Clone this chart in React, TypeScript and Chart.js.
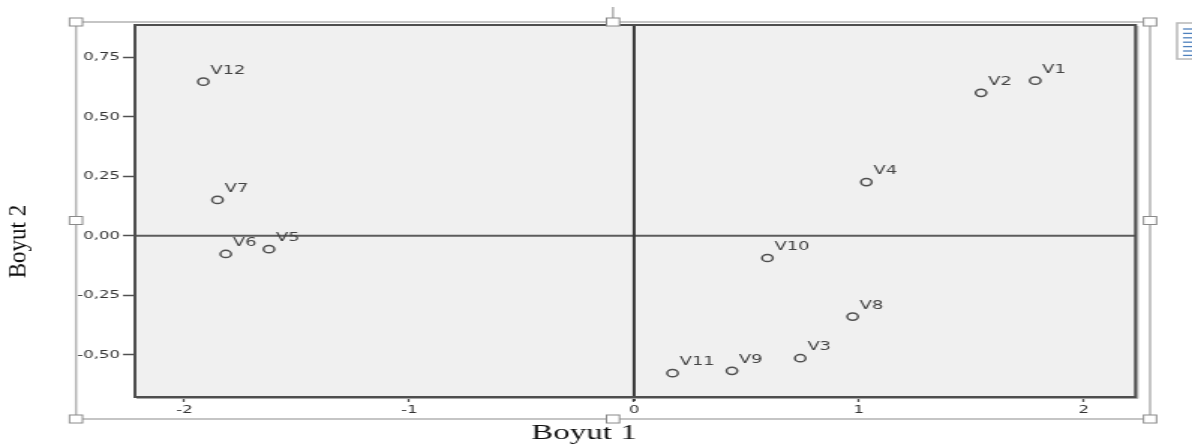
import React, { useEffect, useRef } from "react";
import { Chart, registerables } from "chart.js";

Chart.register(...registerables);

// ---- data ----
const pointLabels = ["V1", "V2", "V3", "V4", "V5", "V6", "V7", "V8", "V9", "V10", "V11", "V12"];
const boyut1 = [1.784, 1.543, 0.739, 1.033, -1.624, -1.816, -1.853, 0.972, 0.435, 0.593, 0.171, -1.916];
const boyut2 = [0.652, 0.601, -0.514, 0.226, -0.056, -0.076, 0.151, -0.339, -0.567, -0.093, -0.577, 0.648];
const xTicks = [-2, -1, 0, 1, 2];
const yTicks = [-0.5, -0.25, 0, 0.25, 0.5, 0.75];
const xTitle = "Boyut 1";
const yTitle = "Boyut 2";

// canvas drawn narrower and stretched horizontally like the reference
const CW = 795;
const CH = 445;
const S = 1192 / CW;
const sx = (v: number) => v / S;

const fmtY = (v: number) => v.toFixed(2).replace(".", ",");

const decorPlugin = {
  id: "decor",
  beforeDraw(chart: any) {
    const { ctx, chartArea: a } = chart;
    ctx.save();
    ctx.fillStyle = "#ffffff";
    ctx.fillRect(0, 0, chart.width, chart.height);
    ctx.fillStyle = "#f0f0f0";
    ctx.fillRect(a.left, a.top, a.right - a.left, a.bottom - a.top);
    ctx.restore();
  },
  beforeDatasetsDraw(chart: any) {
    const { ctx, chartArea: a, scales } = chart;
    const x0 = scales.x.getPixelForValue(0);
    const y0 = scales.y.getPixelForValue(0);
    ctx.save();
    ctx.strokeStyle = "#5c5c5c";
    ctx.lineWidth = 2;
    ctx.beginPath();
    ctx.moveTo(a.left, y0);
    ctx.lineTo(a.right, y0);
    ctx.stroke();
    ctx.strokeStyle = "#383838";
    ctx.lineWidth = 2;
    ctx.beginPath();
    ctx.moveTo(x0, a.top);
    ctx.lineTo(x0, a.bottom + 4);
    ctx.stroke();
    // shadow on right / bottom
    ctx.strokeStyle = "#a8a8a8";
    ctx.lineWidth = 1;
    ctx.beginPath();
    ctx.moveTo(a.right + 1.5, a.top + 1);
    ctx.lineTo(a.right + 1.5, a.bottom + 1.5);
    ctx.lineTo(a.left + 1, a.bottom + 1.5);
    ctx.stroke();
    // plot border
    ctx.strokeStyle = "#4e4e4e";
    ctx.lineWidth = 2;
    ctx.strokeRect(a.left, a.top, a.right - a.left, a.bottom - a.top);
    ctx.restore();
  },
  afterDatasetsDraw(chart: any) {
    const { ctx } = chart;
    const meta = chart.getDatasetMeta(0);
    ctx.save();
    ctx.font = "12px 'DejaVu Sans'";
    ctx.fillStyle = "#444444";
    ctx.textAlign = "left";
    ctx.textBaseline = "middle";
    meta.data.forEach((pt: any, i: number) => {
      ctx.fillText(pointLabels[i], pt.x + sx(7), pt.y - 11);
    });
    ctx.restore();
  },
  afterDraw(chart: any) {
    const { ctx } = chart;
    ctx.save();
    // selection frame
    const L = sx(76), R = sx(1150), T = 22, B = 419;
    ctx.strokeStyle = "#b2b2b2";
    ctx.lineWidth = 1.5;
    ctx.strokeRect(L, T, R - L, B - T);
    // stub above top middle handle
    ctx.beginPath();
    ctx.moveTo(sx(613), 7);
    ctx.lineTo(sx(613), T);
    ctx.stroke();
    const handles = [
      [76, 22], [613, 22], [1150, 22],
      [76, 220.5], [1150, 220.5],
      [76, 419], [613, 419], [1150, 419],
    ];
    ctx.fillStyle = "#ffffff";
    ctx.strokeStyle = "#8a8a8a";
    ctx.lineWidth = 1;
    handles.forEach(([hx, hy]) => {
      const w = sx(13), h = 8;
      ctx.fillRect(sx(hx) - w / 2, hy - h / 2, w, h);
      ctx.strokeRect(sx(hx) - w / 2, hy - h / 2, w, h);
    });
    // layout options icon at top right
    ctx.fillStyle = "#ffffff";
    ctx.strokeStyle = "#b8b8b8";
    ctx.lineWidth = 1.5;
    ctx.fillRect(sx(1177), 23, sx(30), 36);
    ctx.strokeRect(sx(1177), 23, sx(30), 36);
    ctx.strokeStyle = "#4f81bd";
    ctx.lineWidth = 1.3;
    for (let k = 0; k < 7; k++) {
      const yy = 29 + k * 4.4;
      ctx.beginPath();
      ctx.moveTo(sx(1183), yy);
      ctx.lineTo(sx(1192), yy);
      ctx.stroke();
    }
    // axis titles
    ctx.fillStyle = "#111111";
    ctx.font = "22px 'Liberation Serif', 'Times New Roman', serif";
    ctx.textAlign = "center";
    ctx.textBaseline = "alphabetic";
    ctx.fillText(xTitle, sx(584), 439);
    ctx.save();
    ctx.translate(sx(26), 241.5);
    ctx.scale(1.05 / S, 1);
    ctx.rotate(-Math.PI / 2);
    ctx.font = "23px 'Liberation Serif', 'Times New Roman', serif";
    ctx.fillText(yTitle, 0, 0);
    ctx.restore();
    ctx.restore();
  },
};

export default function App() {
  const ref = useRef<HTMLCanvasElement>(null);
  useEffect(() => {
    if (!ref.current) return;
    const chart = new Chart(ref.current, {
      type: "scatter",
      data: {
        datasets: [
          {
            label: "Boyut",
            data: boyut1.map((x, i) => ({ x, y: boyut2[i] })),
            pointStyle: "circle",
            pointRadius: 3.6,
            pointBorderWidth: 1.5,
            borderColor: "#505050",
            backgroundColor: "rgba(0,0,0,0)",
            pointHoverRadius: 3.6,
          },
        ],
      },
      options: {
        responsive: false,
        maintainAspectRatio: false,
        devicePixelRatio: 1,
        animation: false,
        events: [],
        layout: { padding: { left: 0, top: 25, right: CW - sx(1135.5), bottom: 0 } },
        plugins: {
          legend: { display: false },
          tooltip: { enabled: false },
          title: { display: false },
        },
        scales: {
          x: {
            type: "linear",
            min: -2.22,
            max: 2.23,
            afterBuildTicks: (s: any) => {
              s.ticks = xTicks.map((v) => ({ value: v }));
            },
            afterFit: (s: any) => {
              s.height = 48;
            },
            ticks: {
              autoSkip: false,
              maxRotation: 0,
              padding: 2,
              color: "#333333",
              font: { family: "'DejaVu Sans'", size: 11 },
              callback: (v: any) => String(v),
            },
            grid: {
              display: true,
              drawOnChartArea: false,
              drawTicks: true,
              tickLength: 5,
              tickColor: "#505050",
              tickWidth: 1.3,
            },
            border: { display: false },
          },
          y: {
            type: "linear",
            min: -0.677,
            max: 0.886,
            afterBuildTicks: (s: any) => {
              s.ticks = yTicks.map((v) => ({ value: v }));
            },
            afterFit: (s: any) => {
              s.width = 90;
            },
            ticks: {
              autoSkip: false,
              padding: 2,
              color: "#333333",
              font: { family: "'DejaVu Sans'", size: 11 },
              callback: (v: any) => fmtY(Number(v)),
            },
            grid: {
              display: true,
              drawOnChartArea: false,
              drawTicks: true,
              tickLength: 8,
              tickColor: "#505050",
              tickWidth: 1.5,
            },
            border: { display: false },
          },
        },
      },
      plugins: [decorPlugin],
    });
    return () => chart.destroy();
  }, []);

  return (
    <div style={{ position: "absolute", left: 0, top: 0, width: 1192, height: 445, background: "#fff" }}>
      <canvas
        ref={ref}
        width={CW}
        height={CH}
        style={{ width: "1192px", height: "445px", display: "block" }}
      />
    </div>
  );
}
